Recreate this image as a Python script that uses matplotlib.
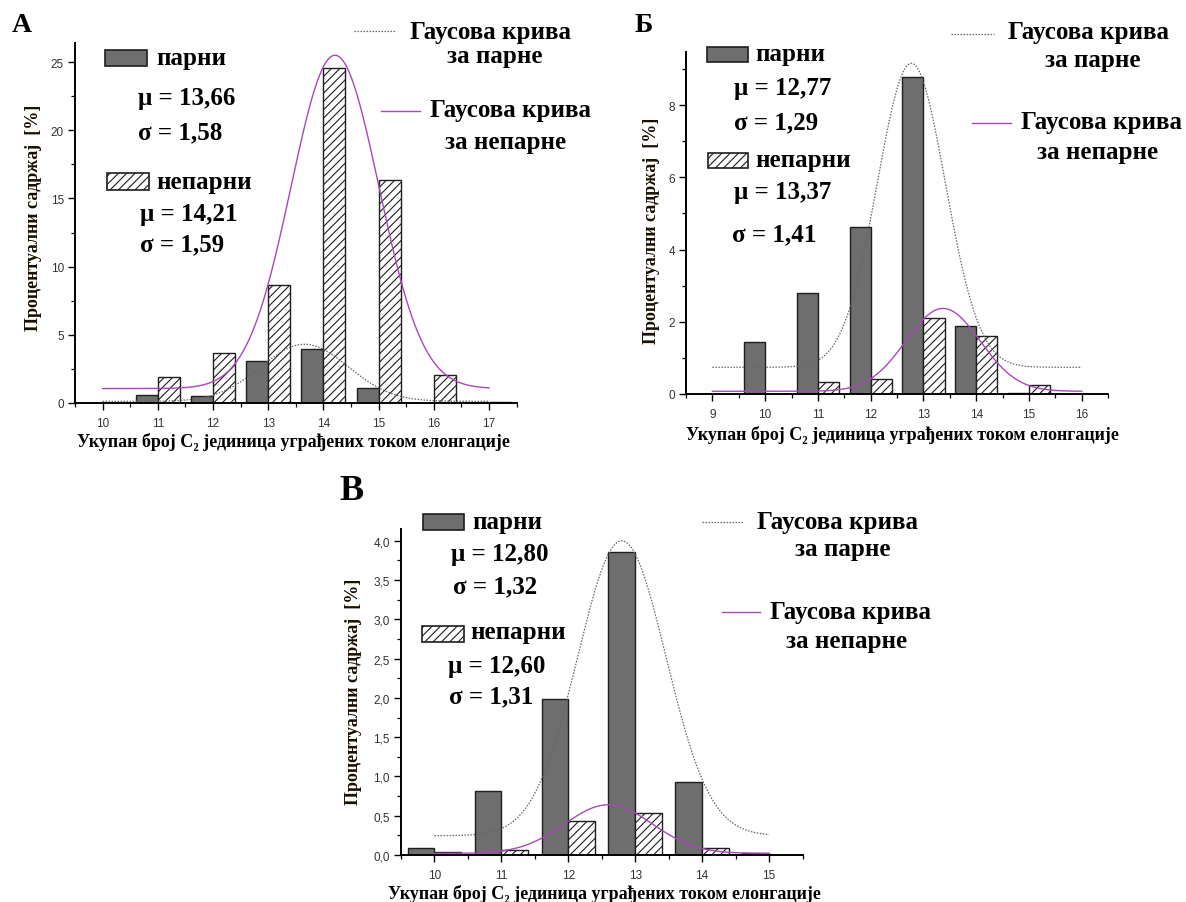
import numpy as np
import matplotlib
matplotlib.use("Agg")
import matplotlib.pyplot as plt
from matplotlib.patches import Rectangle
from matplotlib.lines import Line2D
from matplotlib.ticker import MultipleLocator, FixedLocator

# ---- data ----
# panel А
a_x = [10, 11, 12, 13, 14, 15, 16, 17]
a_parni = [0.0, 0.59, 0.52, 3.08, 3.94, 1.13, 0.0, 0.0]
a_neparni = [0.0, 1.89, 3.70, 8.62, 24.58, 16.35, 2.09, 0.08]
# gauss fits: mu, sigma (as printed), baseline, peak, x from, x to
a_fit_parni = [13.66, 1.58, 0.12, 4.31, 10, 17]
a_fit_neparni = [14.21, 1.59, 1.06, 25.5, 10, 17]
a_yticks = [0, 5, 10, 15, 20, 25]
a_yticklabels = ["0", "5", "10", "15", "20", "25"]

# panel Б
b_x = [10, 11, 12, 13, 14, 15]
b_parni = [1.43, 2.79, 4.63, 8.79, 1.87, 0.04]
b_neparni = [0.0, 0.32, 0.42, 2.10, 1.62, 0.25]
b_fit_parni = [12.77, 1.29, 0.74, 9.16, 9, 16]
b_fit_neparni = [13.37, 1.41, 0.075, 2.37, 9, 16]
b_yticks = [0, 2, 4, 6, 8]
b_yticklabels = ["0", "2", "4", "6", "8"]

# panel В
v_x = [10, 11, 12, 13, 14, 15]
v_parni = [0.085, 0.816, 1.98, 3.86, 0.927, 0.026]
v_neparni = [0.034, 0.064, 0.43, 0.536, 0.085, 0.0]
v_fit_parni = [12.80, 1.32, 0.246, 4.0, 10, 15]
v_fit_neparni = [12.60, 1.31, 0.02, 0.64, 10, 15]
v_yticks = [0, 0.5, 1.0, 1.5, 2.0, 2.5, 3.0, 3.5, 4.0]
v_yticklabels = ["0,0", "0,5", "1,0", "1,5", "2,0", "2,5", "3,0", "3,5", "4,0"]

xlabel = "Укупан број C\u2082 јединица уграђених током елонгације"
ylabel = "Процентуални садржај  [%]"

W, H = 1186, 903
SERIF = ["Liberation Serif", "DejaVu Serif"]
DARK = "#6e6e6e"
EDGE = "#1e1e1e"
PURPLE = "#a848b8"
DOT = "#666666"

plt.rcParams["hatch.linewidth"] = 0.8
fig = plt.figure(figsize=(W / 100, H / 100), dpi=100)


def fx(x):
    return x / W


def fy(y):
    return 1 - y / H


def gauss(fit):
    mu, w, y0, peak, x0, x1 = fit
    xs = np.linspace(x0, x1, 300)
    return xs, y0 + (peak - y0) * np.exp(-2 * (xs - mu) ** 2 / w ** 2)


def panel(box, x, parni, neparni, fp, fn, xlim, ylim, yticks, ylabels, yminor):
    l, t, r, b = box
    ax = fig.add_axes([fx(l), fy(b), fx(r - l), (b - t) / H])
    x = np.array(x, dtype=float)
    ax.bar(x - 0.2, parni, width=0.4, color=DARK, edgecolor=EDGE, lw=1.0, zorder=2)
    ax.bar(x + 0.2, neparni, width=0.4, color="white", edgecolor=EDGE, lw=1.0,
           hatch="////", zorder=2)
    xs, ys = gauss(fp)
    ax.plot(xs, ys, color=DOT, lw=0.9, ls=(0, (1.2, 1.2)), zorder=3)
    xs, ys = gauss(fn)
    ax.plot(xs, ys, color=PURPLE, lw=1.0, zorder=3)
    ax.set_xlim(*xlim)
    ax.set_ylim(*ylim)
    ax.xaxis.set_major_locator(MultipleLocator(1))
    ax.xaxis.set_minor_locator(MultipleLocator(0.5))
    ax.yaxis.set_major_locator(FixedLocator(yticks))
    ax.set_yticklabels(ylabels)
    ax.yaxis.set_minor_locator(MultipleLocator(yminor))
    for s in ["top", "right"]:
        ax.spines[s].set_visible(False)
    for s in ["left", "bottom"]:
        ax.spines[s].set_linewidth(1.4)
    ax.tick_params(which="major", direction="out", length=5, width=1.0,
                   labelsize=8.5, labelcolor="#333333")
    ax.tick_params(which="minor", direction="out", length=3, width=0.9)
    ax.tick_params(axis="x", pad=5)
    ax.tick_params(axis="y", pad=3)
    for lab in ax.get_xticklabels() + ax.get_yticklabels():
        lab.set_family(["Liberation Sans", "DejaVu Sans"])
    return ax


def txt(x, y, s, size=18, ha="left", **kw):
    fig.text(fx(x), fy(y), s, ha=ha, va="center", fontsize=size,
             fontweight="bold", family=SERIF, **kw)


def swatch(x0, y0, x1, y1, hatched):
    rect = Rectangle((fx(x0), fy(y1)), fx(x1 - x0), (y1 - y0) / H,
                     transform=fig.transFigure, lw=1.2, edgecolor=EDGE,
                     facecolor="white" if hatched else DARK,
                     hatch="////" if hatched else None)
    fig.add_artist(rect)


def seg(x0, x1, y, purple):
    if purple:
        ln = Line2D([fx(x0), fx(x1)], [fy(y), fy(y)], color=PURPLE, lw=1.0,
                    transform=fig.transFigure)
    else:
        ln = Line2D([fx(x0), fx(x1)], [fy(y), fy(y)], color=DOT, lw=0.9,
                    ls=(0, (1.2, 1.2)), transform=fig.transFigure)
    fig.add_artist(ln)


# ---- panel А ----
panel((75, 44, 516.6, 404), a_x, a_parni, a_neparni, a_fit_parni, a_fit_neparni,
      (9.5, 17.5), (0, 26.4), a_yticks, a_yticklabels, 2.5)
txt(22, 26, "А", size=20, ha="center")
swatch(105, 51, 147, 67, False)
txt(156, 58, "парни")
txt(138, 99, "μ = 13,66")
txt(138, 133, "σ = 1,58")
swatch(107, 174, 149, 191, True)
txt(156, 182, "непарни")
txt(140, 215, "μ = 14,21")
txt(140, 245, "σ = 1,59")
seg(354, 396, 32, False)
txt(490, 32, "Гаусова крива", ha="center")
txt(495, 57, "за парне", ha="center")
seg(381, 420, 112, True)
txt(511, 110, "Гаусова крива", ha="center")
txt(506, 142, "за непарне", ha="center")
txt(293, 442, xlabel, size=13, ha="center")
fig.text(fx(34), fy(218), ylabel, rotation=90, ha="center", va="center",
         fontsize=13, fontweight="bold", family=SERIF, color="#1a1000")

# ---- panel Б ----
panel((686, 52.7, 1108.2, 395), b_x, b_parni, b_neparni, b_fit_parni, b_fit_neparni,
      (8.5, 16.5), (0, 9.48), b_yticks, b_yticklabels, 1)
txt(644, 25, "Б", size=20, ha="center")
swatch(706.5, 48.3, 747.6, 63.3, False)
txt(755, 55, "парни")
txt(734.5, 89, "μ = 12,77")
txt(734.5, 123, "σ = 1,29")
swatch(707.6, 154, 747.6, 169, True)
txt(755, 160, "непарни")
txt(734.5, 193, "μ = 13,37")
txt(731.5, 235, "σ = 1,41")
seg(951, 994, 35, False)
txt(1088.6, 33, "Гаусова крива", ha="center")
txt(1093, 61, "за парне", ha="center")
seg(971.8, 1011, 124, True)
txt(1101.7, 122, "Гаусова крива", ha="center")
txt(1098, 153, "за непарне", ha="center")
txt(902, 435, xlabel, size=13, ha="center")
fig.text(fx(652), fy(231), ylabel, rotation=90, ha="center", va="center",
         fontsize=13, fontweight="bold", family=SERIF, color="#1a1000")

# ---- panel В ----
panel((401, 530, 802.5, 856), v_x, v_parni, v_neparni, v_fit_parni, v_fit_neparni,
      (9.5, 15.5), (0, 4.15), v_yticks, v_yticklabels, 0.25)
txt(352, 492, "В", size=26, ha="center")
swatch(423, 515, 464.4, 531, False)
txt(472.3, 522, "парни")
txt(450.6, 555, "μ = 12,80")
txt(452.6, 587, "σ = 1,32")
swatch(421.7, 627, 463.6, 643, True)
txt(470.4, 633, "непарни")
txt(447.8, 667, "μ = 12,60")
txt(448.6, 697, "σ = 1,31")
seg(701.7, 743.2, 523, False)
txt(837.7, 523, "Гаусова крива", ha="center")
txt(843, 550, "за парне", ha="center")
seg(721.5, 760.2, 613, True)
txt(851, 612, "Гаусова крива", ha="center")
txt(847, 642, "за непарне", ha="center")
txt(604, 894, xlabel, size=13, ha="center")
fig.text(fx(354), fy(692), ylabel, rotation=90, ha="center", va="center",
         fontsize=13, fontweight="bold", family=SERIF, color="#1a1000")

fig.savefig("out.png", dpi=100)
